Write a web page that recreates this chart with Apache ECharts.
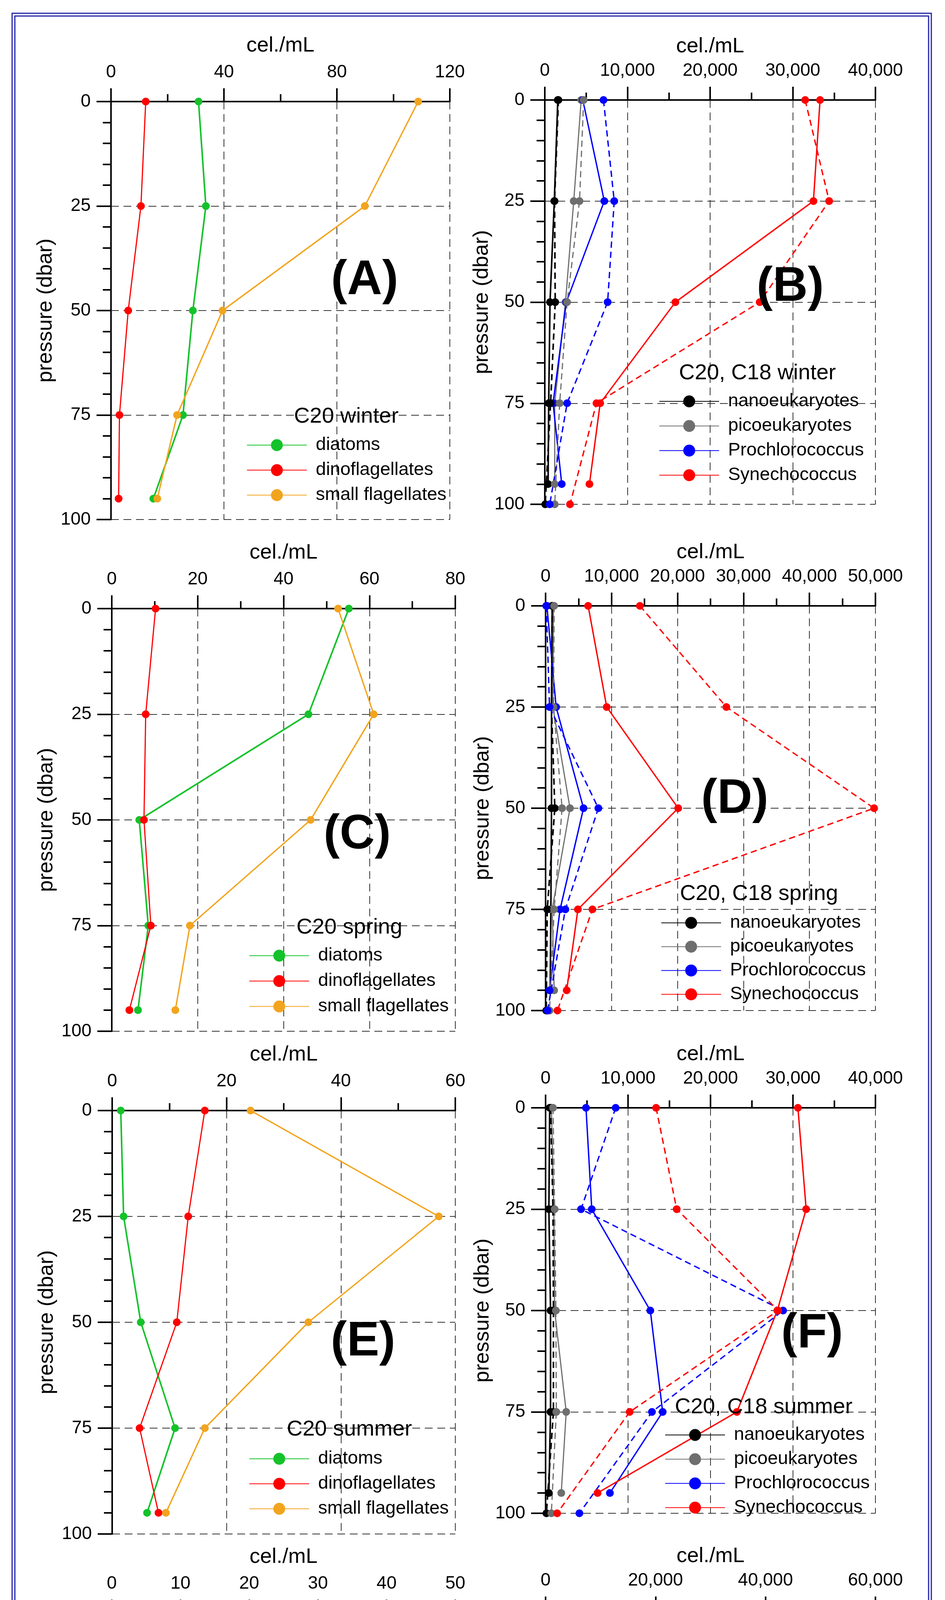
<!DOCTYPE html>
<html>
<head>
<meta charset="utf-8">
<title>plankton profiles</title>
<script src="https://cdn.jsdelivr.net/npm/echarts@6/dist/echarts.min.js"></script>
<style>
html,body{margin:0;padding:0;background:#fff}
#main{width:2418px;height:5355px}
</style>
</head>
<body>
<div id="main"></div>
<script>
// depths (dbar) of the two stations
var depthC20 = [0, 25, 50, 75, 95];
var depthC18 = [0, 25, 50, 75, 100];
var depthTicks = [0, 25, 50, 75, 100];

// x axis range per panel (A..H)
var cellMax  = [120, 40000, 80, 50000, 60, 40000, 50, 60000];
var cellStep = [40, 10000, 20, 10000, 20, 10000, 10, 20000];

// (A) C20 winter
var winterDiatoms = [31, 33.6, 29, 25.5, 15];
var winterDino    = [12.3, 10.6, 6.1, 3, 2.7];
var winterSmall   = [108.8, 89.9, 39.5, 23.4, 16.4];
// (B) C20 / C18 winter
var winterNano20 = [1570, 1150, 630, 470, 400];
var winterNano18 = [1650, 1180, 1260, 700, 50];
var winterPico20 = [4400, 3500, 2500, 1200, 1200];
var winterPico18 = [4700, 4200, 2700, 1800, 1200];
var winterPro20  = [4600, 7200, 2600, 1000, 2050];
var winterPro18  = [7100, 8400, 7600, 2700, 600];
var winterSyn20  = [33300, 32500, 15800, 6700, 5400];
var winterSyn18  = [31500, 34400, 26000, 6250, 3050];

// (C) C20 spring
var springDiatoms = [55.2, 45.8, 6.4, 8.5, 6.1];
var springDino    = [10.2, 7.9, 7.5, 9.1, 4.1];
var springSmall   = [52.7, 61, 46.3, 18.2, 14.8];
// (D) C20 / C18 spring
var springNano20 = [1000, 900, 900, 800, 700];
var springNano18 = [1000, 900, 1400, 250, 100];
var springPico20 = [1200, 1100, 3700, 1000, 1300];
var springPico18 = [1300, 1200, 2500, 1300, 600];
var springPro20  = [200, 1600, 5750, 2200, 600];
var springPro18  = [100, 600, 8000, 3000, 300];
var springSyn20  = [6450, 9270, 20100, 4900, 3200];
var springSyn18  = [14300, 27400, 49800, 7100, 1800];

// (E) C20 summer
var summerDiatoms = [1.5, 2.0, 5.0, 11.0, 6.1];
var summerDino    = [16.2, 13.3, 11.3, 4.8, 8.1];
var summerSmall   = [24.2, 57.1, 34.3, 16.2, 9.4];
// (F) C20 / C18 summer
var summerNano20 = [500, 400, 600, 600, 400];
var summerNano18 = [600, 900, 950, 950, 100];
var summerPico20 = [700, 1000, 1100, 2500, 1900];
var summerPico18 = [900, 1100, 1250, 1300, 700];
var summerPro20  = [4900, 5600, 12700, 14200, 7800];
var summerPro18  = [8500, 4300, 28800, 12900, 4100];
var summerSyn20  = [30600, 31600, 28100, 23200, 6300];
var summerSyn18  = [13400, 15900, 28200, 10200, 1400];

// (G) C20 autumn
var autumnDiatoms = [11.3, 8.2, 5.4, 4.1, 3.6];
var autumnDino    = [4.5, 9.1, 4.2, 3.2, 1.1];
var autumnSmall   = [44.1, 33.0, 34.9, 22.7, 23.9];
// (H) C20 / C18 autumn
var autumnNano20 = [300, 300, 550, 300, 200];
var autumnNano18 = [200, 200, 300, 200, 0];
var autumnPico20 = [700, 800, 2000, 3100, 2700];
var autumnPico18 = [550, 550, 1000, 1400, 900];
var autumnPro20  = [7900, 10700, 41900, 16000, 13100];
var autumnPro18  = [8300, 14600, 59400, 22700, 6100];
var autumnSyn20  = [35100, 34800, 10200, 2000, 1400];
var autumnSyn18  = [30000, 31100, 8500, 1300, 200];

var FONT = '"Liberation Sans", Arial, sans-serif';
var GREEN = '#14c22a', RED = '#ff0000', ORANGE = '#f2a41e';
var BLACK = '#000000', GRAY = '#6e6e6e', BLUE = '#0000ff';

var bigNames = ['diatoms', 'dinoflagellates', 'small flagellates'];
var picoNames = ['nanoeukaryotes', 'picoeukaryotes', 'Prochlorococcus', 'Synechococcus'];

// layout of the 8 panels
var panels = [
  {left: 284,  top: 260,  width: 867, height: 1070, label: '(A)', lx: 933,  ly: 719,  title: 'C20 winter',      tx: 886,  ty: 1067, legLeft: 631,  legTop: 1116, gap: 17},
  {left: 1394, top: 256,  width: 846, height: 1035, label: '(B)', lx: 2022, ly: 736,  title: 'C20, C18 winter', tx: 1938, ty: 956,  legLeft: 1686, legTop: 1004, gap: 16},
  {left: 286,  top: 1558, width: 879, height: 1082, label: '(C)', lx: 914,  ly: 2138, title: 'C20 spring',      tx: 894,  ty: 2375, legLeft: 637,  legTop: 2423, gap: 18},
  {left: 1396, top: 1551, width: 844, height: 1036, label: '(D)', lx: 1880, ly: 2047, title: 'C20, C18 spring', tx: 1942, ty: 2289, legLeft: 1691, legTop: 2339, gap: 14},
  {left: 287,  top: 2843, width: 878, height: 1084, label: '(E)', lx: 929,  ly: 3436, title: 'C20 summer',      tx: 894,  ty: 3660, legLeft: 637,  legTop: 3711, gap: 17},
  {left: 1396, top: 2836, width: 844, height: 1038, label: '(F)', lx: 2078, ly: 3415, title: 'C20, C18 summer', tx: 1954, ty: 3603, legLeft: 1701, legTop: 3650, gap: 15},
  {left: 286,  top: 4129, width: 879, height: 1085, label: '(G)', lx: 1000, ly: 4449, title: 'C20 autumn',      tx: 894,  ty: 4948, legLeft: 637,  legTop: 4998, gap: 17},
  {left: 1396, top: 4121, width: 844, height: 1040, label: '(H)', lx: 2022, ly: 4449, title: 'C20, C18 autumn', tx: 1946, ty: 4867, legLeft: 1691, legTop: 4916, gap: 15}
];

function commas(v) {
  return String(v).replace(/\B(?=(\d{3})+(?!\d))/g, ',');
}

function zip(vals, depths) {
  return vals.map(function (v, k) { return [v, depths[k]]; });
}

function profile(idx, name, vals, depths, color, width, dashed) {
  return {
    type: 'line',
    name: name,
    xAxisIndex: idx,
    yAxisIndex: idx,
    data: zip(vals, depths),
    symbol: 'circle',
    symbolSize: 20,
    showSymbol: true,
    itemStyle: {color: color},
    lineStyle: {color: color, width: width, type: dashed ? [16, 10] : 'solid'},
    emphasis: {disabled: true},
    legendHoverLink: false,
    animation: false
  };
}

var big = [
  [winterDiatoms, winterDino, winterSmall],
  [springDiatoms, springDino, springSmall],
  [summerDiatoms, summerDino, summerSmall],
  [autumnDiatoms, autumnDino, autumnSmall]
];
var pico = [
  [winterNano20, winterNano18, winterPico20, winterPico18, winterPro20, winterPro18, winterSyn20, winterSyn18],
  [springNano20, springNano18, springPico20, springPico18, springPro20, springPro18, springSyn20, springSyn18],
  [summerNano20, summerNano18, summerPico20, summerPico18, summerPro20, summerPro18, summerSyn20, summerSyn18],
  [autumnNano20, autumnNano18, autumnPico20, autumnPico18, autumnPro20, autumnPro18, autumnSyn20, autumnSyn18]
];

var grids = [], xAxes = [], yAxes = [], series = [], legends = [], graphics = [];
var bigColors = [GREEN, RED, ORANGE], bigWidths = [4, 3, 3.5];
var picoColors = [BLACK, GRAY, BLUE, RED], picoWidths = [4, 3, 3.5, 3.5];
var gridLine = {show: true, showMinLine: false, lineStyle: {color: '#333', width: 2, type: [20, 12]}};

panels.forEach(function (p, i) {
  var right = i % 2 === 1;
  grids.push({left: p.left, top: p.top, width: p.width, height: p.height, containLabel: false});
  xAxes.push({
    gridIndex: i, type: 'value', position: 'top',
    min: 0, max: cellMax[i], interval: cellStep[i],
    name: 'cel./mL', nameLocation: 'middle', nameGap: right ? 110 : 116,
    nameTextStyle: {fontSize: 54, color: '#000', fontFamily: FONT},
    axisLine: {show: true, onZero: false, lineStyle: {color: '#000', width: 4}},
    axisTick: {show: true, length: 34, lineStyle: {color: '#000', width: 4}},
    minorTick: {show: true, splitNumber: 2, length: 19, lineStyle: {color: '#000', width: 4}},
    axisLabel: {fontSize: 46, color: '#000', margin: 52, fontFamily: FONT, formatter: commas},
    splitLine: gridLine
  });
  yAxes.push({
    gridIndex: i, type: 'value', inverse: true,
    min: depthTicks[0], max: depthTicks[depthTicks.length - 1], interval: depthTicks[1] - depthTicks[0],
    name: 'pressure (dbar)', nameLocation: 'middle', nameRotate: 90, nameGap: right ? 134 : 140,
    nameTextStyle: {fontSize: 54, color: '#000', fontFamily: FONT},
    axisLine: {show: true, onZero: false, lineStyle: {color: '#000', width: 4}},
    axisTick: {show: true, length: 37, lineStyle: {color: '#000', width: 4}},
    minorTick: {show: true, splitNumber: 5, length: 21, lineStyle: {color: '#000', width: 4}},
    axisLabel: {fontSize: 46, color: '#000', margin: 52, fontFamily: FONT},
    splitLine: gridLine
  });

  var season = Math.floor(i / 2);
  if (!right) {
    big[season].forEach(function (vals, k) {
      series.push(profile(i, bigNames[k], vals, depthC20, bigColors[k], bigWidths[k], false));
    });
  } else {
    // solid C20 first (legend takes its style), dashed C18 after
    for (var k = 0; k < 4; k++) {
      series.push(profile(i, picoNames[k], pico[season][2 * k], depthC20, picoColors[k], picoWidths[k], false));
    }
    for (var k2 = 0; k2 < 4; k2++) {
      series.push(profile(i, picoNames[k2] + ' C18', pico[season][2 * k2 + 1], depthC18, picoColors[k2], picoWidths[k2], true));
    }
  }

  legends.push({
    data: right ? picoNames : bigNames,
    orient: 'vertical', left: p.legLeft, top: p.legTop,
    itemWidth: 153, itemHeight: 38, itemGap: p.gap, padding: 0,
    selectedMode: false,
    textStyle: {fontSize: 47, color: '#000', fontFamily: FONT, padding: [0, 0, 0, 18]}
  });

  graphics.push({
    type: 'text', z: 100,
    style: {text: p.title, x: p.tx, y: p.ty, align: 'center', verticalAlign: 'middle',
      font: '56px ' + FONT, fill: '#000'}
  });
  graphics.push({
    type: 'text', z: 100,
    style: {text: p.label, x: p.lx, y: p.ly, align: 'center', verticalAlign: 'middle',
      font: 'bold 124px ' + FONT, fill: '#000'}
  });
});

// double frame round the figure
graphics.push({type: 'rect', shape: {x: 31, y: 34, width: 2352, height: 5282},
  style: {fill: 'none', stroke: '#2323a8', lineWidth: 3}});
graphics.push({type: 'rect', shape: {x: 38, y: 41, width: 2338, height: 5268},
  style: {fill: 'none', stroke: '#2323a8', lineWidth: 3}});

var chart = echarts.init(document.getElementById('main'));
chart.setOption({
  animation: false,
  backgroundColor: '#fff',
  textStyle: {fontFamily: FONT},
  grid: grids,
  xAxis: xAxes,
  yAxis: yAxes,
  legend: legends,
  series: series,
  graphic: graphics
});
</script>
</body>
</html>
